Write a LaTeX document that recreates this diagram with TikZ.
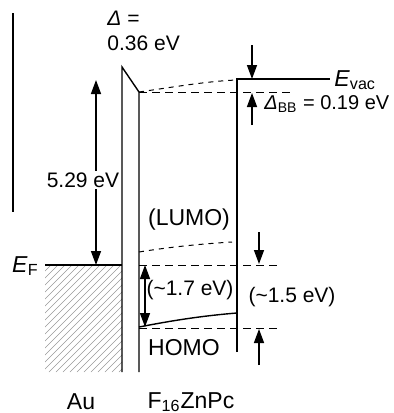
\documentclass[tikz,border=0pt]{standalone}
\usepackage{fontspec}
\setmainfont{Liberation Sans}
\usetikzlibrary{arrows.meta, positioning}
\tikzset{
  lvl/.style={line width=0.7pt, color=black},
  dashlvl/.style={line width=0.5pt, dash pattern=on 4pt off 2.5pt},
  dotlvl/.style={line width=0.5pt, dash pattern=on 2.5pt off 2.5pt},
  arr/.style={-{Triangle[length=7pt, width=5pt]}, line width=0.7pt},
  darr/.style={{Triangle[length=7pt, width=5pt]}-{Triangle[length=7pt, width=5pt]}, line width=0.7pt},
  hatch/.style={line width=0.3pt, color=black!40},
  lbl/.style={font=\fontsize{10.5}{12.5}\selectfont, inner sep=1pt},
  wordlbl/.style={font=\fontsize{11.5}{13}\selectfont, inner sep=1pt},
  biglbl/.style={font=\fontsize{11.5}{13}\selectfont, inner sep=1pt}
}

\begin{document}
\begin{tikzpicture}[x=0.5pt, y=-0.5pt]
  \useasboundingbox (0,0) rectangle (393,413);

  % Au: Fermi level and filled states
  \begin{scope}
    \clip (45,265) rectangle (122,372);
    \foreach \s in {-112,-105,...,126}
      \draw[hatch] (\s,372) -- ++(110,-110);
  \end{scope}
  \draw[lvl] (13,13) -- (13,212);
  \draw[lvl] (45,265) -- (122,265);
  \node[biglbl, anchor=east] (ef) at (41,266) {\textit{E}\textsubscript{F}};

  % interface dipole
  \draw[lvl] (122,372) -- (122,67) -- (139,92) -- (139,372);
  \node[lbl, anchor=north west, align=left] (dip) at (105,9) {\textit{Δ} =\\0.36 eV};

  % F16ZnPc film edge and vacuum level
  \draw[lvl] (237,352) -- (237,79) -- (330,79);
  \node[biglbl, anchor=west] (evac) at (332,80) {\textit{E}\textsubscript{vac}};
  \draw[dashlvl] (139,92) -- (290,92);
  \draw[dotlvl] (139,92) .. controls (180,86) and (210,81) .. (237,80);

  % work function
  \coordinate (wtop) at (96,80);
  \coordinate (wbot) at (96,265);
  \draw[darr] (wbot) -- (wtop);
  \node[lbl, fill=white] (wf) at (83,180) {5.29 eV};

  % band bending at vacuum level
  \coordinate (bb1) at (252,45);
  \coordinate (bb2) at (252,79);
  \coordinate (bb3) at (252,125);
  \coordinate (bb4) at (252,93);
  \draw[arr] (bb1) -- (bb2);
  \draw[arr] (bb3) -- (bb4);
  \node[lbl, anchor=west, font=\fontsize{10}{12}\selectfont] (dbb) at (262,104) {\textit{Δ}\textsubscript{BB} = 0.19 eV};

  % LUMO and HOMO
  \node[wordlbl] (lumo) at (189,220) {(LUMO)};
  \draw[dotlvl] (139,252) .. controls (170,247) and (200,244) .. (232,242);
  \draw[dashlvl] (139,265) -- (280,265);
  \draw[lvl] (139,327) .. controls (170,321) and (200,316) .. (237,313);
  \draw[dashlvl] (139,328) -- (280,328);
  \node[wordlbl] (homo) at (184,348) {HOMO};

  % hole injection barriers
  \coordinate (hi1) at (145,265);
  \coordinate (hi2) at (145,327);
  \draw[darr] (hi1) -- (hi2);
  \node[lbl] (gap1) at (190,290) {(\textasciitilde1.7 eV)};
  \coordinate (hr1) at (259,232);
  \coordinate (hr2) at (259,264);
  \coordinate (hr3) at (259,365);
  \coordinate (hr4) at (259,329);
  \draw[arr] (hr1) -- (hr2);
  \draw[arr] (hr3) -- (hr4);
  \node[lbl] (gap2) at (292,297) {(\textasciitilde1.5 eV)};

  % materials
  \node[wordlbl] (au) at (81,402) {Au};
  \node[wordlbl] (pc) at (191,402) {F\textsubscript{16}ZnPc};
\end{tikzpicture}
\end{document}
